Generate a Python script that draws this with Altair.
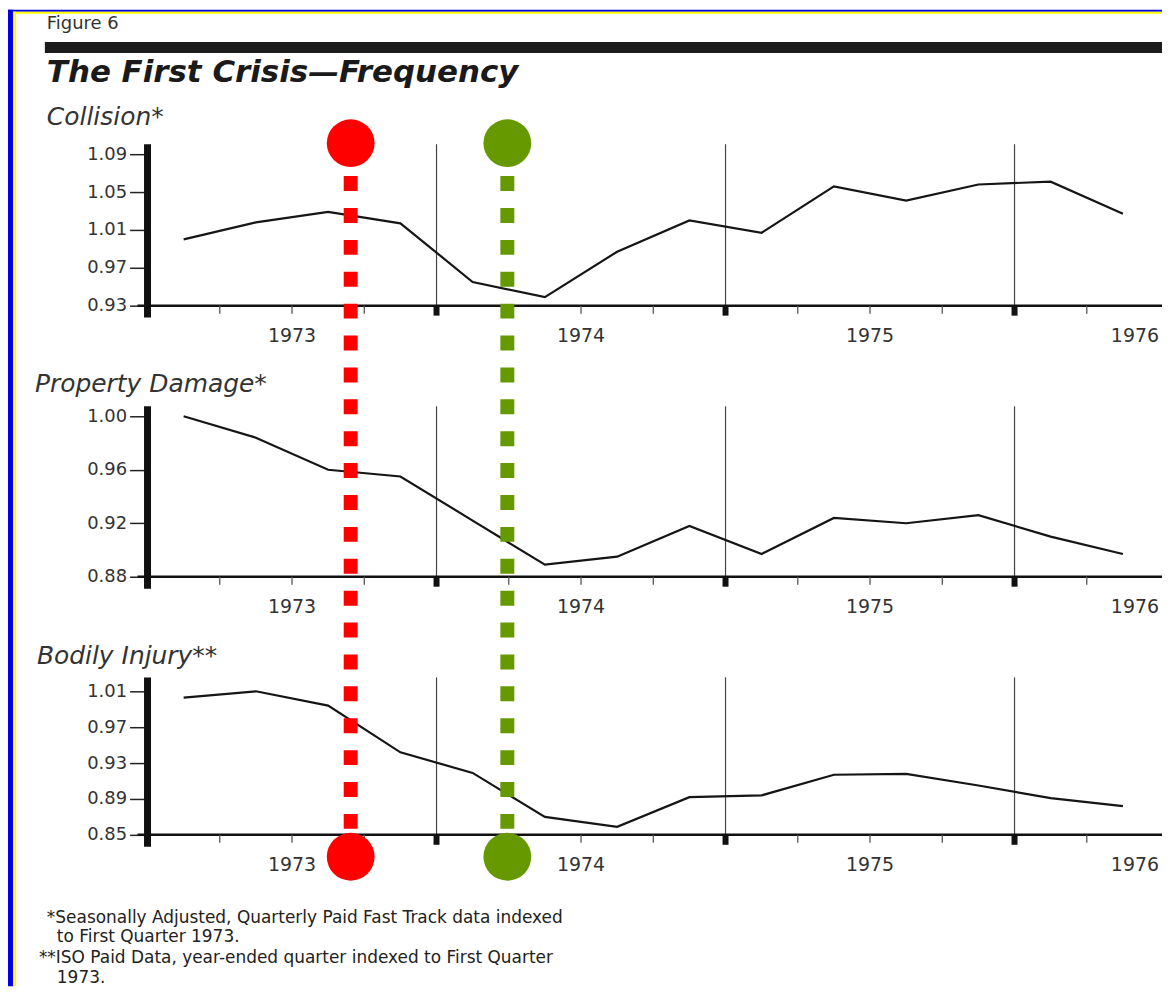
import altair as alt
import pandas as pd

# ---------------- data ----------------
quarters = [1973.125, 1973.375, 1973.625, 1973.875,
            1974.125, 1974.375, 1974.625, 1974.875,
            1975.125, 1975.375, 1975.625, 1975.875,
            1976.125, 1976.375]
collision = [1.000, 1.018, 1.029, 1.017, 0.955, 0.939, 0.987,
             1.020, 1.007, 1.056, 1.041, 1.058, 1.061, 1.027]
property_damage = [1.000, 0.984, 0.960, 0.955, 0.922, 0.889, 0.895,
                   0.918, 0.897, 0.924, 0.920, 0.926, 0.910, 0.897]
bodily_injury = [1.003, 1.010, 0.994, 0.942, 0.919, 0.870, 0.859,
                 0.892, 0.894, 0.917, 0.918, 0.905, 0.891, 0.882]

collision_ticks = [0.93, 0.97, 1.01, 1.05, 1.09]
property_ticks = [0.88, 0.92, 0.96, 1.00]
bodily_ticks = [0.85, 0.89, 0.93, 0.97, 1.01]

year_bounds = [1973, 1974, 1975, 1976]
year_separators = [1974, 1975, 1976]
quarter_ticks = [1973.25, 1973.5, 1973.75, 1974.25, 1974.5, 1974.75,
                 1975.25, 1975.5, 1975.75, 1976.25]
year_label_pos = [1973.5, 1974.5, 1975.5, 1976.5]

crisis_names = ["Embargo begins", "Embargo ends"]
crisis_t = [1973.703, 1974.245]
crisis_colors = ["#ff0000", "#669900"]

figure_label = "Figure 6"
main_title = "The First Crisis\u2014Frequency"
panel_titles = ["Collision*", "Property Damage*", "Bodily Injury**"]
footnotes = [
    "*Seasonally Adjusted, Quarterly Paid Fast Track data indexed",
    "to First Quarter 1973.",
    "**ISO Paid Data, year-ended quarter indexed to First Quarter",
    "1973.",
]

# ---------------- styling ----------------
FONT = "DejaVu Sans"
W = 1015
XS = alt.Scale(domain=[1973, 1976.5], nice=False, zero=False)
INK = "#222222"


def one(label="x"):
    return pd.DataFrame({"label": [label]})


def text_layer(label, x, y, size, style="normal", weight="normal", color="#333333"):
    return alt.Chart(one(label)).mark_text(
        align="left", baseline="middle", font=FONT, fontSize=size,
        fontStyle=style, fontWeight=weight, color=color
    ).encode(x=alt.value(x), y=alt.value(y), text="label:N")


def panel(values, domain, H, yticks, title, tx, ty):
    df = pd.DataFrame({"t": quarters, "v": values})
    yaxis = alt.Axis(
        values=yticks, format=".2f", domain=False, grid=False, ticks=True,
        tickSize=18, tickColor=INK, tickWidth=1.5, labelPadding=3,
        labelFont=FONT, labelFontSize=18, labelColor="#333333", title=None,
        labelOverlap=False,
    )
    ys = alt.Scale(domain=domain, nice=False, zero=False)

    seps = alt.Chart(pd.DataFrame({"t": year_separators})).mark_rule(
        color="#444444", strokeWidth=1.2
    ).encode(x=alt.X("t:Q", scale=XS, axis=None), y=alt.value(-10), y2=alt.value(H))

    line = alt.Chart(df).mark_line(color="#151515", strokeWidth=2.2).encode(
        x=alt.X("t:Q", scale=XS, axis=None),
        y=alt.Y("v:Q", scale=ys, axis=yaxis),
    )

    xline = alt.Chart(one()).mark_rule(color="#111111", strokeWidth=2.5).encode(
        x=alt.value(-10), x2=alt.value(W + 3), y=alt.value(H)
    )
    ybar = alt.Chart(one()).mark_rule(color="#111111", strokeWidth=7).encode(
        x=alt.value(0), y=alt.value(-10), y2=alt.value(H + 12)
    )
    qticks = alt.Chart(pd.DataFrame({"t": quarter_ticks})).mark_rule(
        color="#555555", strokeWidth=1.3
    ).encode(x=alt.X("t:Q", scale=XS, axis=None), y=alt.value(H), y2=alt.value(H + 8))
    year_ticks = alt.Chart(pd.DataFrame({"t": year_bounds})).mark_rule(
        color="#111111", strokeWidth=6
    ).encode(x=alt.X("t:Q", scale=XS, axis=None), y=alt.value(H), y2=alt.value(H + 10))

    ylab = pd.DataFrame({"t": year_label_pos, "year": [str(y) for y in year_bounds]})
    year_labels_mid = alt.Chart(ylab[ylab["t"] < 1976.4]).mark_text(
        align="center", baseline="middle", font=FONT, fontSize=19, color="#333333"
    ).encode(x=alt.X("t:Q", scale=XS, axis=None), y=alt.value(H + 30), text="year:N")
    year_labels_end = alt.Chart(ylab[ylab["t"] > 1976.4]).mark_text(
        align="right", baseline="middle", font=FONT, fontSize=19, color="#333333"
    ).encode(x=alt.X("t:Q", scale=XS, axis=None), y=alt.value(H + 30), text="year:N")

    ttl = text_layer(title, tx, ty, 25, style="italic")
    return [seps, line, xline, ybar, qticks, year_ticks, year_labels_mid, year_labels_end, ttl]


# ---------------- panel 1 (with header) ----------------
H1 = 152
p1_layers = panel(collision, [0.93, 1.09], H1, collision_ticks, panel_titles[0], -101, -37)

blue = "#0000e0"
yellow = "#ffff00"
frame = [
    alt.Chart(one()).mark_rect(color=blue).encode(
        x=alt.value(-140), x2=alt.value(W + 3), y=alt.value(-145), y2=alt.value(-143)),
    alt.Chart(one()).mark_rect(color=yellow).encode(
        x=alt.value(-135), x2=alt.value(W + 3), y=alt.value(-143), y2=alt.value(-141)),
    alt.Chart(one()).mark_rect(color=blue).encode(
        x=alt.value(-140), x2=alt.value(-135), y=alt.value(-145), y2=alt.value(835)),
    alt.Chart(one()).mark_rect(color=yellow).encode(
        x=alt.value(-135), x2=alt.value(-132), y=alt.value(-143), y2=alt.value(835)),
]
header = [
    text_layer(figure_label, -101, -131, 18),
    alt.Chart(one()).mark_rule(color="#1c1c1c", strokeWidth=11).encode(
        x=alt.value(-103), x2=alt.value(W + 3), y=alt.value(-107)),
    text_layer(main_title, -101, -81, 31, style="italic", weight="bold", color="#1a1a1a"),
]
p1 = alt.layer(*(frame + header + p1_layers)).properties(width=W, height=H1)

# ---------------- panel 2 ----------------
H2 = 161
p2 = alt.layer(*panel(property_damage, [0.88, 1.00], H2, property_ticks,
                      panel_titles[1], -113, -32)).properties(width=W, height=H2)

# ---------------- panel 3 (with crisis markers and footnotes) ----------------
H3 = 148
p3_layers = panel(bodily_injury, [0.85, 1.0144], H3, bodily_ticks,
                  panel_titles[2], -111, -31)

crisis_df = pd.DataFrame({"name": crisis_names, "t": crisis_t})
ccolor = alt.Color("name:N", scale=alt.Scale(domain=crisis_names, range=crisis_colors), legend=None)
crisis_lines = alt.Chart(crisis_df).mark_rule(
    strokeWidth=14, strokeDash=[15, 17], strokeCap="butt"
).encode(x=alt.X("t:Q", scale=XS, axis=None), y=alt.value(-513), y2=alt.value(142), color=ccolor)
top_dots = alt.Chart(crisis_df).mark_point(filled=True, size=2300, opacity=1, shape="circle").encode(
    x=alt.X("t:Q", scale=XS, axis=None), y=alt.value(-546), color=ccolor)
bottom_dots = alt.Chart(crisis_df).mark_point(filled=True, size=2300, opacity=1, shape="circle").encode(
    x=alt.X("t:Q", scale=XS, axis=None), y=alt.value(170), color=ccolor)

notes = [
    text_layer(footnotes[0], -101, 231, 17, color=INK),
    text_layer(footnotes[1], -91, 251, 17, color=INK),
    text_layer(footnotes[2], -109, 272, 17, color=INK),
    text_layer(footnotes[3], -91, 292, 17, color=INK),
]
p3 = alt.layer(*(p3_layers + [crisis_lines, top_dots, bottom_dots] + notes)).properties(
    width=W, height=H3)

chart = alt.vconcat(p1, p2, p3, spacing=111, bounds="flush").properties(
    padding=0, background="white"
).configure_view(stroke=None)

chart.save("out.html", embed_options={"renderer": "svg", "actions": False})
